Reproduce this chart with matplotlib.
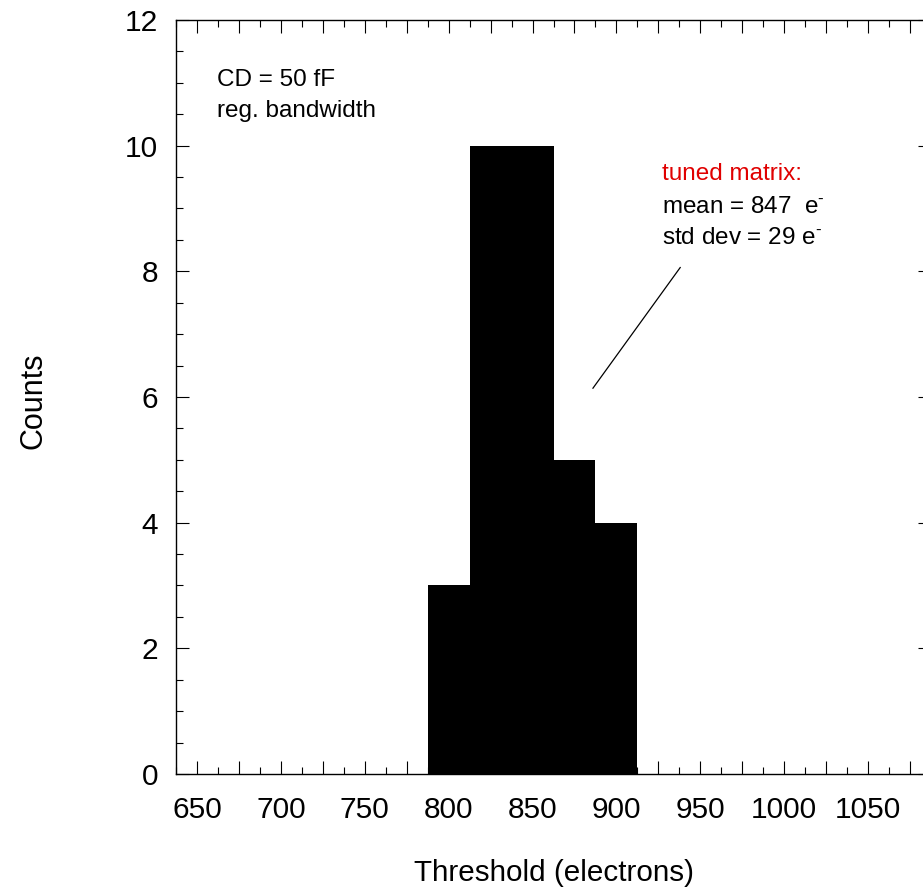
import matplotlib
matplotlib.use('Agg')
import matplotlib.pyplot as plt
from matplotlib.ticker import MultipleLocator, FuncFormatter

plt.rcParams['font.family'] = ['Liberation Sans', 'DejaVu Sans']
plt.rcParams['mathtext.fontset'] = 'custom'
plt.rcParams['mathtext.rm'] = 'Liberation Sans'
plt.rcParams['mathtext.it'] = 'Liberation Sans'

# threshold histogram, 25 e- bins
bin_centers = [800, 825, 850, 875, 900]
counts = [3, 10, 10, 5, 4]
bin_width = 25

fig = plt.figure(figsize=(9.23, 8.88), dpi=100)
ax = fig.add_axes([0.1907, 0.1284, 0.818, 0.8491])

ax.bar(bin_centers, counts, width=bin_width, color='black', edgecolor='black', linewidth=0)

ax.set_xlim(637.5, 1087.5)
ax.set_ylim(0, 12)

ax.xaxis.set_major_locator(MultipleLocator(25))
ax.xaxis.set_minor_locator(MultipleLocator(12.5))
ax.xaxis.set_major_formatter(FuncFormatter(lambda v, p: '%d' % v if round(v) % 50 == 0 else ''))
ax.yaxis.set_major_locator(MultipleLocator(2))
ax.yaxis.set_minor_locator(MultipleLocator(0.5))

ax.tick_params(which='both', direction='in', top=True, right=True, width=0.8)
ax.tick_params(which='major', length=9.4, labelsize=21.5)
ax.tick_params(which='minor', length=5)
ax.tick_params(axis='x', which='major', pad=15.5)
ax.tick_params(axis='y', which='major', pad=13)
for s in ax.spines.values():
    s.set_linewidth(1.0)

ax.set_xlabel('Threshold (electrons)', fontsize=21.3)
ax.xaxis.set_label_coords(0.501, -0.113)
ax.set_ylabel('Counts', fontsize=22, va='center')
ax.yaxis.set_label_coords(-0.189, 0.495)

ax.text(0.0543, 0.9125, 'CD = 50 fF', transform=ax.transAxes, fontsize=17.5)
ax.text(0.0543, 0.8714, 'reg. bandwidth', transform=ax.transAxes, fontsize=17.5)

ax.text(0.6437, 0.7878, 'tuned matrix:', transform=ax.transAxes, fontsize=17.5, color='#e00000')
ax.text(0.6437, 0.7443, r'mean = 847  e$^{\text{-}}$', transform=ax.transAxes, fontsize=17.5)
ax.text(0.6437, 0.7029, r'std dev = 29 e$^{\text{-}}$', transform=ax.transAxes, fontsize=17.5)

ax.plot([886, 938], [6.14, 8.06], color='black', linewidth=0.9)

fig.savefig('out.png', dpi=100)
